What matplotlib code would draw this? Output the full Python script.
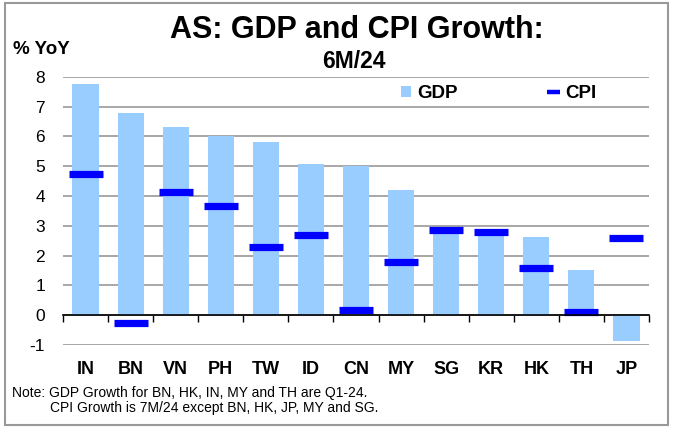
import matplotlib
matplotlib.use("Agg")
import matplotlib.pyplot as plt
import numpy as np
from matplotlib.patches import Rectangle, Patch
from matplotlib.lines import Line2D

plt.rcParams['font.family'] = ['Liberation Sans', 'DejaVu Sans']

categories = ["IN", "BN", "VN", "PH", "TW", "ID", "CN", "MY", "SG", "KR", "HK", "TH", "JP"]
gdp = [7.75, 6.77, 6.30, 6.01, 5.80, 5.07, 5.00, 4.19, 2.90, 2.80, 2.63, 1.50, -0.86]
cpi = [4.75, -0.25, 4.13, 3.67, 2.30, 2.70, 0.17, 1.78, 2.86, 2.79, 1.58, 0.11, 2.60]
yticks = [-1, 0, 1, 2, 3, 4, 5, 6, 7, 8]

BAR_C = "#99CCFF"
CPI_C = "#0000FF"

W, H = 676, 428
fig = plt.figure(figsize=(W / 100, H / 100), dpi=100)
ax = fig.add_axes([63 / W, 1 - 345 / H, (649 - 63) / W, (345 - 76.7) / H])

x = np.arange(len(categories))
ax.bar(x, gdp, width=0.58, color=BAR_C, edgecolor="none", zorder=2)
ax.plot(x, cpi, linestyle="none", marker="_", markersize=25, markeredgewidth=5.2,
        color=CPI_C, zorder=3)

ax.set_xlim(-0.5, len(categories) - 0.5)
ax.set_ylim(-1, 8)
ax.set_yticks(yticks)
ax.set_yticklabels([str(v) for v in yticks], fontsize=12.5)
ax.yaxis.grid(True, color="#A0A0A0", linewidth=1.3, zorder=0)
ax.set_axisbelow(True)
ax.tick_params(axis="y", length=0, pad=13)

for s in ["top", "right", "left"]:
    ax.spines[s].set_visible(False)
ax.spines["bottom"].set_position(("data", 0))
ax.spines["bottom"].set_color("black")
ax.spines["bottom"].set_linewidth(1.2)
ax.spines["bottom"].set_zorder(4)

ax.set_xticks(x)
ax.set_xticklabels(categories, fontsize=13, fontweight="bold")
ax.set_xticks(np.arange(-0.5, len(categories), 1.0), minor=True)
ax.tick_params(axis="x", which="major", length=0, pad=33)
ax.tick_params(axis="x", which="minor", length=5, width=1, direction="out", color="black")

aw, ah = (649 - 63), (345 - 76.7)
def ax_xy(px, py):
    return ((px - 63) / aw, 1 - (py - 76.7) / ah)

leg_kw = dict(loc="center left", frameon=False, prop={"weight": "bold", "size": 13.5},
              handletextpad=0.3, borderpad=0, borderaxespad=0)
leg1 = ax.legend(handles=[Patch(facecolor=BAR_C, edgecolor="none", label="GDP")],
                 bbox_to_anchor=ax_xy(401, 93.5), handlelength=0.55, handleheight=0.55, **leg_kw)
ax.add_artist(leg1)
ax.legend(handles=[Line2D([], [], color=CPI_C, linewidth=3.2, solid_capstyle="butt", label="CPI")],
          bbox_to_anchor=ax_xy(547, 93.5), handlelength=0.7, **leg_kw)

fig.text(356.5 / W, 1 - 30 / H, "AS: GDP and CPI Growth:", ha="center", va="center",
         fontsize=22, fontweight="bold")
fig.text(353.5 / W, 1 - 61 / H, "6M/24", ha="center", va="center",
         fontsize=16.5, fontweight="bold")
fig.text(13 / W, 1 - 50 / H, "% YoY", ha="left", va="center", fontsize=13.5, fontweight="bold")
fig.text(12 / W, 1 - 393 / H, "Note: GDP Growth for BN, HK, IN, MY and TH are Q1-24.",
         ha="left", va="center", fontsize=10)
fig.text(50 / W, 1 - 408 / H, "CPI Growth is 7M/24 except BN, HK, JP, MY and SG.",
         ha="left", va="center", fontsize=10)

fig.patches.append(Rectangle((5 / W, 1 - 425 / H), (668 - 5) / W, (425 - 3) / H,
                             transform=fig.transFigure, fill=False, edgecolor="#999999",
                             linewidth=1.5))

fig.savefig("out.png", dpi=100)
